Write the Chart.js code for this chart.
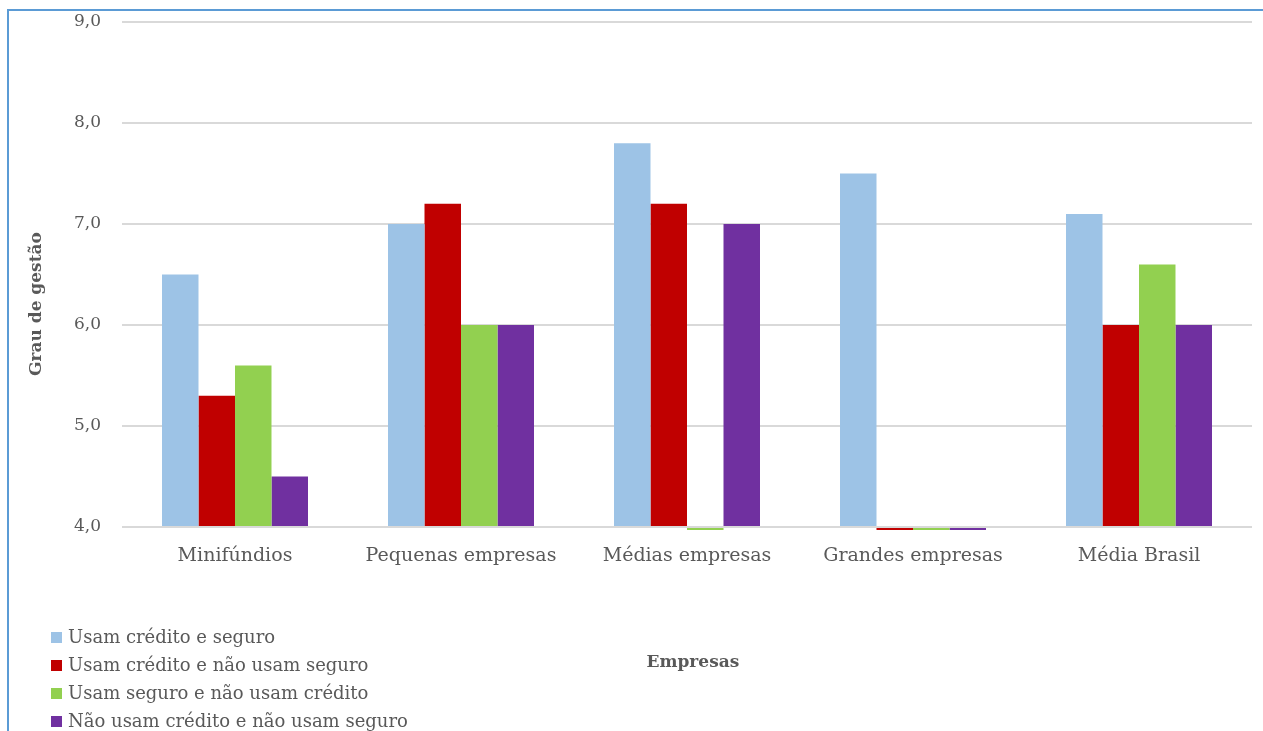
<!DOCTYPE html>
<html>
<head>
<meta charset="utf-8">
<script src="https://cdn.jsdelivr.net/npm/chart.js@4.4.1/dist/chart.umd.min.js"></script>
<style>
  html, body { margin: 0; padding: 0; background: #fff; }
  #wrap { position: relative; width: 1263px; height: 731px; overflow: hidden; }
  #frame { position: absolute; left: 7px; top: 9px; right: 0; bottom: 0; border-left: 2px solid #5b9bd5; border-top: 2px solid #5b9bd5; }
  #userChart { position: absolute; left: 0; top: 0; }
  #chartLegend { position: absolute; left: 51px; top: 623px; font-family: "DejaVu Serif", serif; font-size: 18px; color: #595959; }
  #chartLegend ul { list-style: none; margin: 0; padding: 0; }
  #chartLegend li { height: 28px; line-height: 28px; display: flex; align-items: center; }
  #chartLegend span { display: inline-block; width: 11px; height: 11px; margin-right: 6px; }
  #chartLegend p { margin: 0; }
</style>
</head>
<body>
<div id="wrap">
  <div id="frame"></div>
  <canvas id="userChart" width="1263" height="731"></canvas>
  <div id="chartLegend"></div>
</div>
<script>
const categories = ["Minifúndios", "Pequenas empresas", "Médias empresas", "Grandes empresas", "Média Brasil"];
const seriesNames = [
  "Usam crédito e seguro",
  "Usam crédito e não usam seguro",
  "Usam seguro e não usam crédito",
  "Não usam crédito e não usam seguro"
];
const creditoSeguro = [6.5, 7.0, 7.8, 7.5, 7.1];
const creditoSemSeguro = [5.3, 7.2, 7.2, 0, 6.0];
const seguroSemCredito = [5.6, 6.0, 0, 0, 6.6];
const nenhum = [4.5, 6.0, 7.0, 0, 6.0];

// bar colors, same order as the series
const barColors = ["#9dc3e6", "#c00000", "#92d050", "#7030a0"];

const axisMin = 4;
const axisMax = 9;

const fontFamily = "'DejaVu Serif', serif";
const textColor = "#595959";

// legend list built by hand so it can sit in a single column at the bottom left
function generateLegend(locationID, chartName) {
  const location = document.getElementById(locationID);
  const ul = document.createElement("UL");

  chartName.data.datasets.forEach((dataset) => {
    const li = document.createElement("LI");
    const spanBox = document.createElement("SPAN");
    spanBox.style.backgroundColor = dataset.backgroundColor;
    const p = document.createElement("P");
    p.appendChild(document.createTextNode(dataset.label));
    li.appendChild(spanBox);
    li.appendChild(p);
    ul.appendChild(li);
  });

  location.appendChild(ul);
}

const values = [creditoSeguro, creditoSemSeguro, seguroSemCredito, nenhum];

const datasets = seriesNames.map((name, index) => ({
  label: name,
  data: values[index],
  backgroundColor: barColors[index],
  borderWidth: 0,
  barPercentage: 1,
  categoryPercentage: 0.646,
  // bars grow from the axis minimum; empty groups drop below it and show as a thin line
  base: axisMin,
  clip: { left: 0, top: 0, right: 0, bottom: 3 },
}));

const ctx = document.getElementById("userChart");

const dataChart = new Chart(ctx, {
  type: "bar",
  data: {
    labels: categories,
    datasets: datasets,
  },
  options: {
    responsive: false,
    animation: false,
    layout: { padding: { top: 0, right: 11, bottom: 0, left: 0 } },
    scales: {
      x: {
        grid: { display: false, drawTicks: false },
        border: { display: false },
        ticks: {
          color: textColor,
          padding: 18,
          maxRotation: 0,
          font: { family: fontFamily, size: 19 },
        },
        title: {
          display: true,
          text: "  Empresas",
          color: textColor,
          font: { family: fontFamily, size: 17, weight: "bold" },
          padding: { top: 0, bottom: 58 },
        },
        afterFit: (scale) => { scale.height = 204; },
      },
      y: {
        min: axisMin,
        max: axisMax,
        grid: { color: "#d9d9d9", lineWidth: 2, drawTicks: false },
        border: { display: false },
        ticks: {
          stepSize: 1,
          color: textColor,
          padding: 21,
          font: { family: fontFamily, size: 17 },
          callback: (value) => value.toFixed(1).replace(".", ","),
        },
        title: {
          display: true,
          text: "Grau de gestão          ",
          color: textColor,
          font: { family: fontFamily, size: 17, weight: "bold" },
          padding: { top: 26, bottom: 0 },
        },
        afterFit: (scale) => {
          scale.width = 122;
          scale.paddingTop = 22;
        },
      },
    },
    plugins: {
      legend: { display: false },
      tooltip: { enabled: false },
    },
  },
});

generateLegend("chartLegend", dataChart);
</script>
</body>
</html>
